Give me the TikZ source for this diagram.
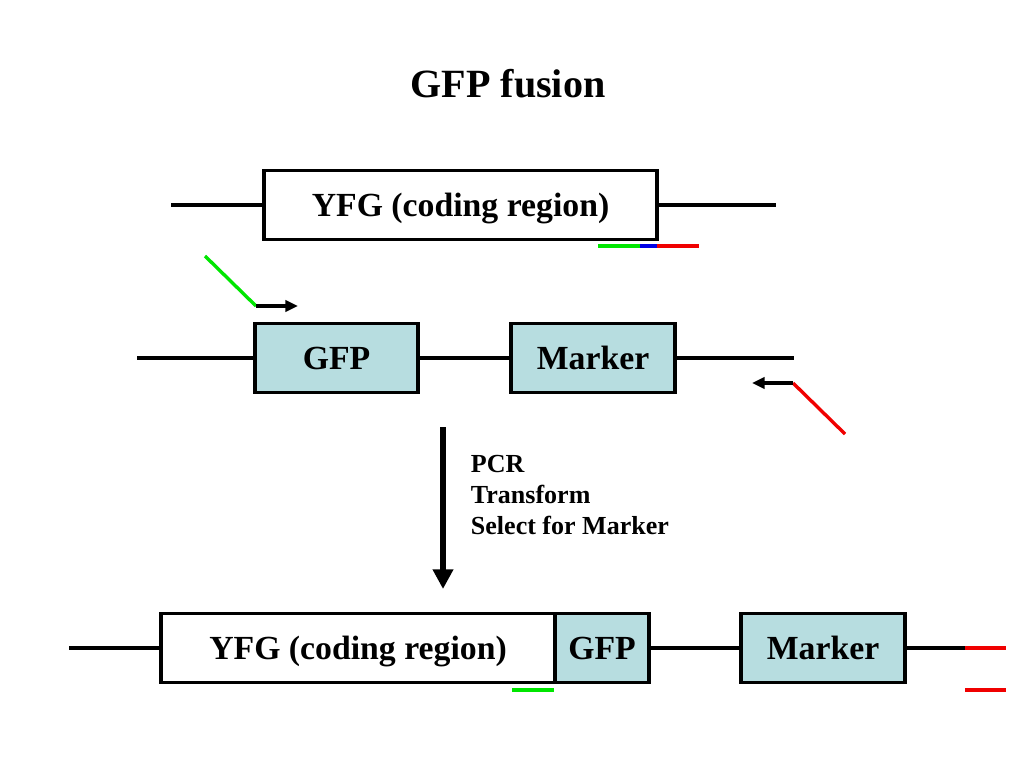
\documentclass[tikz,border=0pt]{standalone}
\usepackage{fontspec}
\setmainfont{Liberation Serif}
\usetikzlibrary{arrows.meta}
\definecolor{boxblue}{RGB}{183,221,224}
\definecolor{pgreen}{RGB}{0,230,0}
\definecolor{pred}{RGB}{240,0,0}
\definecolor{pblue}{RGB}{0,0,230}

\begin{document}
\begin{tikzpicture}[x=0.025cm, y=-0.025cm,
		dna/.style={line width=2.2pt},
		gene/.style={draw, line width=2.6pt, minimum height=1.72cm, text height=15.8pt, text depth=0pt, font=\fontsize{24}{26}\selectfont\bfseries},
		primer/.style={line width=2.4pt, line cap=butt}]
		\useasboundingbox (0,0) rectangle (1024,768);

		% Tytul
		\node[font=\fontsize{28.5}{30}\selectfont\bfseries] (title) at (508,84) {GFP fusion};

		% Bloki
		\node[gene, fill=white, minimum width=9.825cm] (yfgA) at (460.5,205) {YFG (coding region)};
		\node[gene, fill=boxblue, minimum width=4.075cm] (gfpB) at (336.5,358) {GFP};
		\node[gene, fill=boxblue, minimum width=4.1cm] (markB) at (593,358) {Marker};
		\node[gene, fill=white, minimum width=9.85cm] (yfgC) at (358,648) {YFG (coding region)};
		\node[gene, fill=boxblue, minimum width=2.35cm] (gfpC) at (602,648) {GFP};
		\node[gene, fill=boxblue, minimum width=4.1cm] (markC) at (823,648) {Marker};

		% Punkty
		\coordinate (a0) at (171,205);
		\coordinate (a1) at (776,205);
		\coordinate (b0) at (137,358);
		\coordinate (b1) at (794,358);
		\coordinate (c0) at (69,648);
		\coordinate (c1) at (965,648);
		\coordinate (c2) at (1006,648);

		% Linie DNA
		\draw[dna] (a0) -- (yfgA.west);
		\draw[dna] (yfgA.east) -- (a1);
		\draw[dna] (b0) -- (gfpB.west);
		\draw[dna] (gfpB.east) -- (markB.west);
		\draw[dna] (markB.east) -- (b1);
		\draw[dna] (c0) -- (yfgC.west);
		\draw[dna] (gfpC.east) -- (markC.west);
		\draw[dna] (markC.east) -- (c1);
		\draw[primer, pred] (c1) -- (c2);
		\draw[primer, pred] (965,690) -- (1006,690);

		% Startery
		\draw[primer, pgreen] (598,246) -- (640,246);
		\draw[primer, pblue] (640,246) -- (657,246);
		\draw[primer, pred] (657,246) -- (699,246);
		\draw[primer, pgreen] (512,690) -- (554,690);

		\coordinate (fA) at (205,256);
		\coordinate (fB) at (256,306);
		\coordinate (fC) at (298,306);
		\draw[primer, pgreen] (fA) -- (fB);
		\draw[line width=2.2pt, -{Triangle[length=9pt,width=8pt]}] (fB) -- (fC);

		\coordinate (rA) at (845,434);
		\coordinate (rB) at (793,383);
		\coordinate (rC) at (752,383);
		\draw[primer, pred] (rA) -- (rB);
		\draw[line width=2.2pt, -{Triangle[length=9pt,width=8pt]}] (rB) -- (rC);

		% Strzalka
		\coordinate (s0) at (443,427);
		\coordinate (s1) at (443,589);
		\draw[line width=3.6pt, -{Triangle[length=14pt,width=14pt]}] (s0) -- (s1);
		\node[anchor=west, align=left, font=\fontsize{18.5}{22}\selectfont\bfseries] (steps) at (466,495) {PCR\\Transform\\Select for Marker};

	\end{tikzpicture}
\end{document}
